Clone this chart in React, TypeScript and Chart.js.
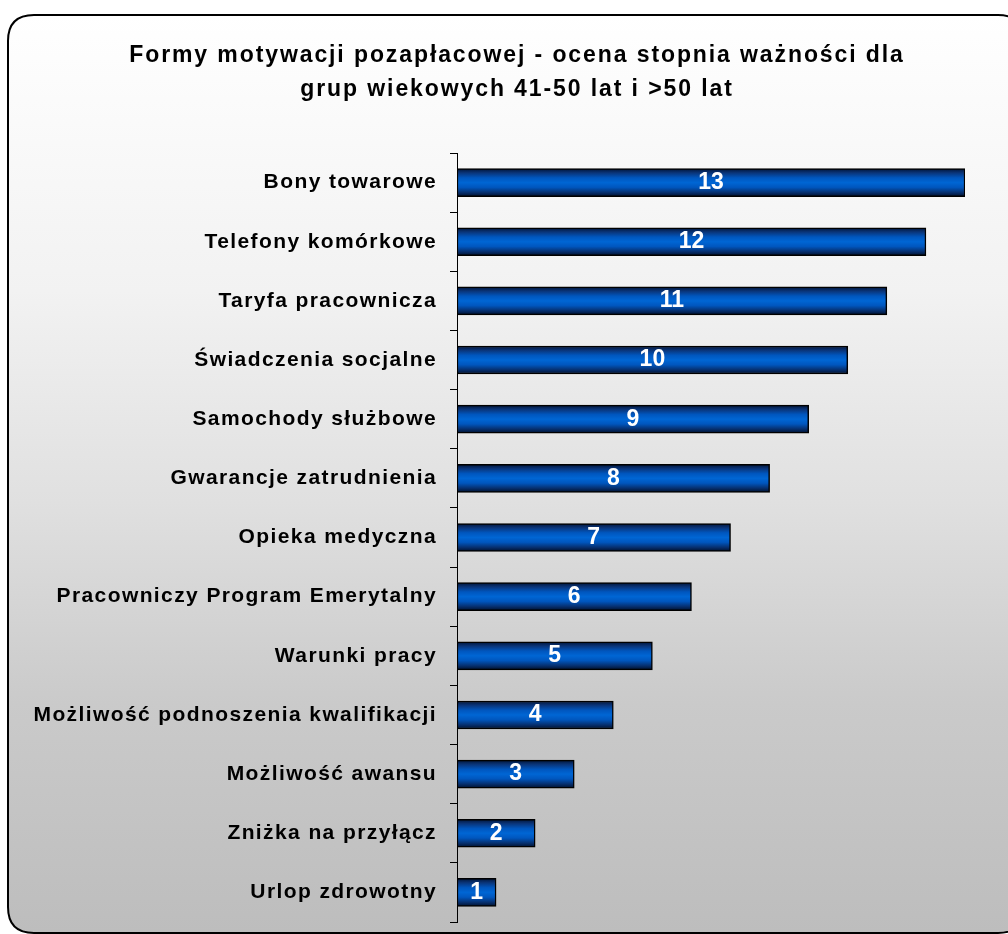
import React, { useEffect, useRef } from "react";
import { Chart, registerables } from "chart.js";

Chart.register(...registerables);

const categories = [
  "Bony towarowe",
  "Telefony komórkowe",
  "Taryfa pracownicza",
  "Świadczenia socjalne",
  "Samochody służbowe",
  "Gwarancje zatrudnienia",
  "Opieka medyczna",
  "Pracowniczy Program Emerytalny",
  "Warunki pracy",
  "Możliwość podnoszenia kwalifikacji",
  "Możliwość awansu",
  "Zniżka na przyłącz",
  "Urlop zdrowotny",
];
const values = [13, 12, 11, 10, 9, 8, 7, 6, 5, 4, 3, 2, 1];
const titleLines = [
  "Formy motywacji pozapłacowej - ocena stopnia ważności dla",
  "grup wiekowych 41-50 lat i >50 lat",
];

const FONT = "'Liberation Sans', Arial, sans-serif";
const BAR_T = 28;

const framePlugin = {
  id: "frame",
  beforeDraw(chart: any) {
    const ctx = chart.ctx;
    const x0 = 8, y0 = 15, x1 = 1024, y1 = 933, r = 26;
    ctx.save();
    const g = ctx.createLinearGradient(0, y0, 0, y1);
    g.addColorStop(0, "#ffffff");
    g.addColorStop(0.3, "#f2f2f2");
    g.addColorStop(0.53, "#e0e0e0");
    g.addColorStop(0.75, "#cacaca");
    g.addColorStop(1, "#bdbdbd");
    ctx.beginPath();
    ctx.moveTo(x0 + r, y0);
    ctx.lineTo(x1 - r, y0);
    ctx.quadraticCurveTo(x1, y0, x1, y0 + r);
    ctx.lineTo(x1, y1 - r);
    ctx.quadraticCurveTo(x1, y1, x1 - r, y1);
    ctx.lineTo(x0 + r, y1);
    ctx.quadraticCurveTo(x0, y1, x0, y1 - r);
    ctx.lineTo(x0, y0 + r);
    ctx.quadraticCurveTo(x0, y0, x0 + r, y0);
    ctx.closePath();
    ctx.fillStyle = g;
    ctx.fill();
    ctx.lineWidth = 2;
    ctx.strokeStyle = "#000";
    ctx.stroke();
    ctx.restore();
    // letter spacing for the category tick labels
    ctx.letterSpacing = "1.4px";
  },
  afterDraw(chart: any) {
    const ctx = chart.ctx;
    ctx.letterSpacing = "0px";
    ctx.save();
    ctx.letterSpacing = "1.9px";
    ctx.fillStyle = "#000";
    ctx.font = `bold 23px ${FONT}`;
    ctx.textAlign = "center";
    ctx.textBaseline = "middle";
    ctx.fillText(titleLines[0], 517, 56);
    ctx.fillText(titleLines[1], 517, 90);
    ctx.restore();
  },
};

const valueLabelPlugin = {
  id: "valueLabels",
  afterDatasetsDraw(chart: any) {
    const ctx = chart.ctx;
    const meta = chart.getDatasetMeta(0);
    ctx.save();
    ctx.letterSpacing = "0px";
    ctx.fillStyle = "#ffffff";
    ctx.font = `bold 23px ${FONT}`;
    ctx.textAlign = "center";
    ctx.textBaseline = "middle";
    meta.data.forEach((el: any, i: number) => {
      const cx = (el.x + el.base) / 2;
      ctx.fillText(String(values[i]), cx, el.y);
    });
    ctx.restore();
  },
};

function barGradient(context: any) {
  const chart = context.chart;
  const yScale = chart.scales && chart.scales.y;
  if (!yScale || context.dataIndex === undefined) return "#0060c0";
  const yc = yScale.getPixelForValue(context.dataIndex);
  if (!Number.isFinite(yc)) return "#0060c0";
  const top = yc - BAR_T / 2;
  const g = chart.ctx.createLinearGradient(0, top, 0, top + BAR_T);
  g.addColorStop(0, "#001437");
  g.addColorStop(0.15, "#0a3478");
  g.addColorStop(0.33, "#0056be");
  g.addColorStop(0.5, "#0066d4");
  g.addColorStop(0.67, "#0056be");
  g.addColorStop(0.85, "#063070");
  g.addColorStop(1, "#00102c");
  return g;
}

export default function App() {
  const ref = useRef<HTMLCanvasElement | null>(null);
  useEffect(() => {
    if (!ref.current) return;
    const chart = new Chart(ref.current, {
      type: "bar",
      data: {
        labels: categories,
        datasets: [
          {
            data: values,
            backgroundColor: barGradient,
            borderColor: "#000000",
            borderWidth: 1.5,
            borderSkipped: false,
            barThickness: BAR_T,
          },
        ],
      },
      options: {
        indexAxis: "y",
        animation: false,
        responsive: true,
        maintainAspectRatio: false,
        layout: { padding: { left: 0, right: 43, top: 153, bottom: 12 } },
        plugins: {
          legend: { display: false },
          tooltip: { enabled: false },
          title: { display: false },
        },
        scales: {
          x: { display: false, min: 0, max: 13 },
          y: {
            afterFit(scale: any) {
              scale.width = 457;
              scale.paddingTop = 0;
              scale.paddingBottom = 0;
            },
            grid: {
              display: true,
              drawOnChartArea: false,
              drawTicks: true,
              tickLength: 7,
              color: "#000",
              offset: true,
            },
            border: { display: true, color: "#000", width: 1 },
            ticks: {
              color: "#000",
              padding: 13,
              font: { family: FONT, size: 21, weight: "bold" },
            },
          },
        },
      },
      plugins: [framePlugin, valueLabelPlugin],
    });
    return () => chart.destroy();
  }, []);
  return (
    <div style={{ position: "absolute", left: 0, top: 0, width: 1008, height: 934 }}>
      <canvas ref={ref} />
    </div>
  );
}
